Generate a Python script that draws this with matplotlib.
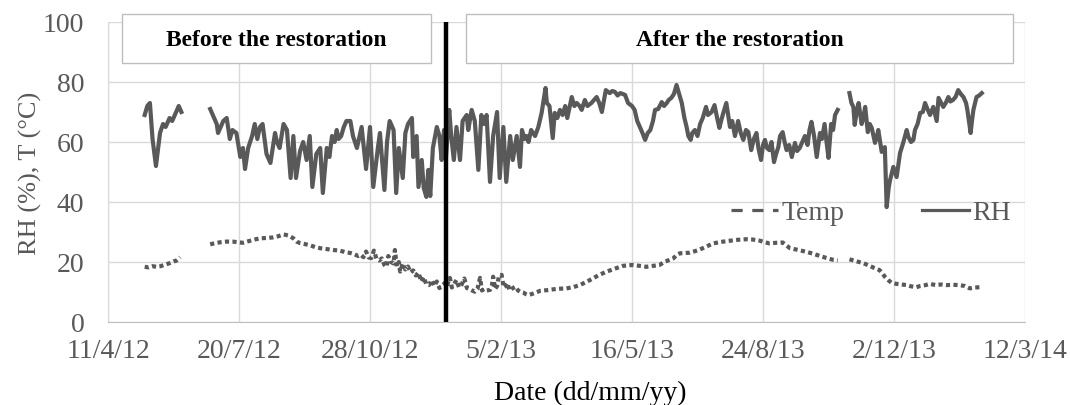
import numpy as np
import matplotlib
matplotlib.use("Agg")
import matplotlib.pyplot as plt
from matplotlib.lines import Line2D
from matplotlib.patches import Rectangle

nan = np.nan

# x axis: days since 11/4/12, ticks every 100 days
tick_days = [0, 100, 200, 300, 400, 500, 600, 700]
tick_labels = ["11/4/12", "20/7/12", "28/10/12", "5/2/13", "16/5/13",
               "24/8/13", "2/12/13", "12/3/14"]
restoration_day = 258

# relative humidity (%)
rh_days = [28, 30, 32, 34, 36.6, 38, 39.7, 42, 44, 47, 49, 51, 54, 56,
           57,
           78, 80, 83, 84, 86, 88, 90.6, 93, 95, 98, 101, 103, 104.6, 107, 110,
           112, 114, 116, 118, 121, 124, 127.5, 129, 131, 134, 136.6, 139.4,
           141.5, 143.5, 146.6, 149, 151.6, 154, 156, 159, 162, 164, 167, 169,
           171, 173, 174.6, 176, 178, 180, 182, 185, 187, 190, 193.6, 197, 200,
           202.5, 206, 207.6, 211, 213, 215, 218, 220, 222, 225, 227, 229, 232,
           233, 235.6, 237, 239.5, 241, 243, 244.5, 246, 248, 251, 253, 254.7,
           256.5, 258, 260.5, 262, 264, 266, 268.7, 270.7, 273.8, 275, 277.6,
           280, 282.7, 285, 287, 289, 291.6, 294, 297, 299, 301.8, 304, 307,
           309, 312, 314.5, 316, 318, 319.6, 321, 323, 326, 328.5, 331, 334,
           335, 337, 339.5, 341, 343, 345, 347, 349, 350.6, 354, 356, 357.8,
           360, 361.6, 364, 366, 369, 371, 373, 375, 377, 380, 383, 385, 387,
           389, 391, 393, 394.7, 397, 400, 402, 404, 406, 408, 410, 412, 414,
           416, 417.6, 420, 422.7, 424.5, 426.5, 428, 430, 432, 434, 436, 438,
           440, 441.7, 443, 444.8, 446, 448, 450, 452, 454, 456.5, 458, 460.8,
           463, 465, 466.7, 468, 469.7, 472, 474.8, 476.5, 478.6, 481, 483, 485,
           487, 488.8, 491, 493, 495, 496.5, 498.5, 500, 501.5, 503, 504.8,
           506.5, 508.4, 510, 511.7, 513, 515, 516.5, 518, 520, 522, 524.4, 526,
           528, 530, 532, 534, 535.5, 537, 539, 541, 543.5, 545, 547, 548.5,
           550, 552, 553.5, 555, 557,
           561,
           566, 567.5, 569, 570, 571.5, 573, 575.3, 576.5, 578, 580, 581.5, 583,
           585.5, 587, 588, 590.6, 593, 594.4, 596, 597, 599.5, 602, 604.6, 607,
           609.7, 611, 613, 614.8, 616, 618, 620, 622, 623.7, 625.5, 627.5, 630,
           632.6, 634, 636, 637.6, 639.5, 641.5, 643, 645, 647, 649, 651, 653,
           655, 656, 657.5, 658.5, 659.5, 660.6, 663, 665, 667]
rh_vals = [69, 72, 73, 61, 52, 57, 63, 66, 65, 68, 67, 69, 72, 70,
           nan,
           71, 69, 66, 63, 65, 67, 68, 61, 64, 63, 55, 58, 51, 58, 62,
           66, 61, 65, 66, 56, 53, 63, 60, 58, 66, 64, 48,
           62, 48, 57, 60, 54, 62, 45, 56, 58, 43, 58, 55,
           62, 60, 64, 61, 62, 65, 67, 67, 62, 58, 65, 51, 65,
           45, 58, 63, 44, 60, 67, 64, 43, 58, 48, 63, 66, 68,
           55, 62, 45, 54, 44.7, 41.7, 50.7, 42, 58, 65, 62, 54,
           64, 55, 70.7, 62, 54, 65, 54, 67, 69, 64, 70.7,
           67, 50.7, 69, 66, 69, 46.7, 62, 70, 48, 65, 46.7, 62,
           54, 62, 51.7, 64, 61, 62, 60, 64, 62, 65, 69.7, 78,
           73, 72, 61.3, 69.7, 68, 70.7, 69, 72, 68, 75, 72, 73,
           72, 70.7, 74, 72, 73, 74, 75, 73, 70, 77.3, 76.3, 77, 76.7,
           75.5, 76.3, 76, 75.7, 73, 72, 70.7, 67, 65, 63, 60.7, 63, 64,
           67, 70.7, 71, 73.3, 72, 73, 74, 74.7, 76, 79, 76, 73,
           68, 65, 62, 60.7, 63, 64, 62, 66, 68, 71.7, 69, 70,
           72.3, 68, 64.7, 67, 69.7, 73, 65, 67, 62, 67, 63, 60.7,
           64, 63.3, 57.3, 61, 63, 58, 54, 59, 60.7, 58, 57.3,
           60, 53.3, 56, 58.3, 62, 63.3, 60, 57.3, 59, 55, 59.7, 57,
           58, 60, 62, 59, 64, 66.7, 62, 55, 63, 61, 66, 60,
           54.7, 66, 64, 69, 70.7,
           nan,
           76.3, 73, 71.7, 65.7, 70, 73, 66, 68, 71.7, 63.3, 66, 64.7,
           59.7, 62, 64, 56.7, 58.3, 38.3, 45, 47.3, 51.7, 48.3, 56.3, 59.7,
           64, 61.7, 60, 60.7, 64, 66, 69.7, 70, 73, 71, 69, 71.7,
           67, 74.7, 73, 71.7, 73, 75, 73.5, 74, 75, 77.3, 76, 75,
           73, 70.7, 66, 63, 67, 70.7, 75, 75.5, 76.3]

# temperature (degC)
t_days = [28, 31, 34, 37, 40, 43, 47, 50, 52, 55,
          57,
          78, 82, 86, 90.6, 95, 99, 103, 107, 111, 116, 121, 126, 130, 134,
          138, 141.5, 144, 146.6, 150, 154, 158, 162, 167, 172, 177, 181, 185,
          188, 191, 193, 195, 197, 199, 201, 203, 205, 207, 209, 211, 212.7,
          214, 216, 218, 219, 220.5, 222, 223, 225, 227, 229, 231, 233, 235,
          237, 239, 241, 243, 245, 247, 249, 251, 253, 255, 257, 258.5, 261,
          262.5, 264, 266, 268, 270, 272, 274, 276, 278, 280, 282, 284, 285.5,
          287, 289, 291.6, 293, 294, 295.5, 297, 298.5, 300.5, 302, 303, 305,
          306.5, 309, 311, 313, 314.5, 317, 319, 321, 324, 327, 330, 335, 340,
          345, 350, 355, 360, 365, 370.5, 375, 380.7, 387, 393, 397, 401, 406,
          411, 416, 421, 425, 428, 431.5, 434, 436.6, 440, 444, 448, 452, 457,
          462, 468, 475, 481, 487.5, 492, 497.7, 501, 505, 510, 515, 518,
          520.6, 526, 533, 538, 543.5, 548, 553.7, 557,
          561,
          566, 571, 576.6, 581, 585, 589, 591, 593, 595.5, 598, 602, 606,
          609.7, 613, 617, 620, 624, 627.5, 632, 636, 640, 645, 650, 654, 658,
          662, 665.6]
t_vals = [18.4, 18.2, 18.6, 18.4, 18.6, 19, 19.6, 20.2, 20.4, 21.6,
          nan,
          25.9, 26.3, 26.6, 26.8, 26.8, 26.6, 26.4, 26.9, 27.4, 27.9, 28.0, 28.2, 28.6, 29.2,
          28.8, 27.9, 26.8, 26.3, 26.0, 25.6, 25.0, 24.6, 24.3, 24.0, 23.8, 23.3, 23.0,
          22.6, 22.0, 22.4, 21.6, 23.5, 21.5, 21.3, 23.8, 21.0, 20.5, 21.2, 19.0, 18.4,
          22, 20, 19.5, 24, 18.5, 20, 16.8, 19.5, 17.5, 18.5, 16.5, 17.2, 15.5,
          16.5, 13.5, 15, 12.5, 12.3, 14, 12, 13.5, 11.3, 12, 13, 11.8, 14.7,
          11.5, 12.5, 14, 11.5, 12.5, 14.5, 11.3, 11, 10.5, 10.1, 11, 14.7, 10.5,
          11, 10.5, 10.7, 12, 15.1, 11, 12, 15.5, 15.7, 11.5, 11.8, 13,
          10.5, 11.3, 11.8, 10.5, 10.1, 9.8, 9.3, 9.0, 9.4, 9.9, 10.4, 10.6, 10.9,
          11.1, 11.2, 11.6, 12.3, 13.3, 14.6, 15.7, 16.8, 17.8, 18.7, 18.9, 19.0, 18.7,
          18.4, 18.7, 19.0, 20.1, 20.6, 21.2, 22.3, 22.9, 23.0, 23.1, 23.6, 24.2, 25.2,
          26.2, 26.7, 27.1, 27.4, 27.6, 27.5, 27.1, 26.6, 26.2, 26.4, 26.5, 25.5,
          24.6, 24.1, 23.4, 22.8, 22.0, 21.4, 20.7, 20.5,
          nan,
          20.9, 20.3, 19.6, 18.8, 18.0, 17.3, 16.3, 15.1, 14.0, 13.1, 12.7, 12.5,
          12.3, 11.9, 11.6, 12.0, 12.3, 12.7, 12.3, 12.5, 12.3, 12.4, 12.3, 12.0, 11.2,
          11.5, 11.6]

W, H = 1070, 405
gray = "#595959"
plt.rcParams["font.family"] = ["Liberation Serif", "DejaVu Serif"]

fig = plt.figure(figsize=(W / 100, H / 100), dpi=100)
ax = fig.add_axes([108 / W, 1 - 322 / H, (1025 - 108) / W, 300 / H])

ax.plot(t_days, t_vals, color=gray, lw=3, dashes=(1.0, 0.8), zorder=3)
ax.plot(rh_days, rh_vals, color=gray, lw=3, zorder=3)
ax.axvline(restoration_day, color="black", lw=3.2, zorder=4)

ax.set_xlim(0, 700)
ax.set_ylim(0, 100)
ax.set_xticks(tick_days)
ax.set_xticklabels(tick_labels)
ax.set_yticks(range(0, 101, 20))
ax.grid(color="#d9d9d9", lw=1)
ax.set_axisbelow(True)
ax.tick_params(axis="both", length=0, labelsize=20, labelcolor=gray)
ax.tick_params(axis="x", pad=12)
ax.tick_params(axis="y", pad=17)
for s in ["top", "right"]:
    ax.spines[s].set_visible(False)
ax.spines["left"].set_color("#d9d9d9")
ax.spines["bottom"].set_color("#bfbfbf")

fig.text(590 / W, 1 - 393 / H, "Date (dd/mm/yy)", ha="center", va="center",
         fontsize=20, color="black")
fig.text(30 / W, 1 - 173 / H, "RH (%), T (°C)", ha="center", va="center",
         rotation=90, fontsize=19, color=gray)

# labelled boxes above the plot
for x0, x1, label in [(122, 431, "Before the restoration"),
                      (466, 1013, "After the restoration")]:
    fig.patches.append(Rectangle((x0 / W, 1 - 63 / H), (x1 - x0) / W, 49 / H,
                                 transform=fig.transFigure, facecolor="white",
                                 edgecolor="#bfbfbf", lw=1, zorder=5))
    fig.text((x0 + x1) / 2 / W, 1 - 41 / H, label, ha="center", va="center",
             fontsize=17, fontweight="bold", color="black", zorder=6)

handles = [Line2D([], [], color=gray, lw=2.3, dashes=(3.5, 3.0)),
           Line2D([], [], color=gray, lw=2.3)]
ax.legend(handles, ["Temp", "RH"], ncol=2, frameon=False, fontsize=20,
          labelcolor=gray, handlelength=1.7, handletextpad=0.1,
          columnspacing=2.8, loc="center", bbox_to_anchor=(0.832, 0.363))

fig.savefig("out.png", dpi=100)
